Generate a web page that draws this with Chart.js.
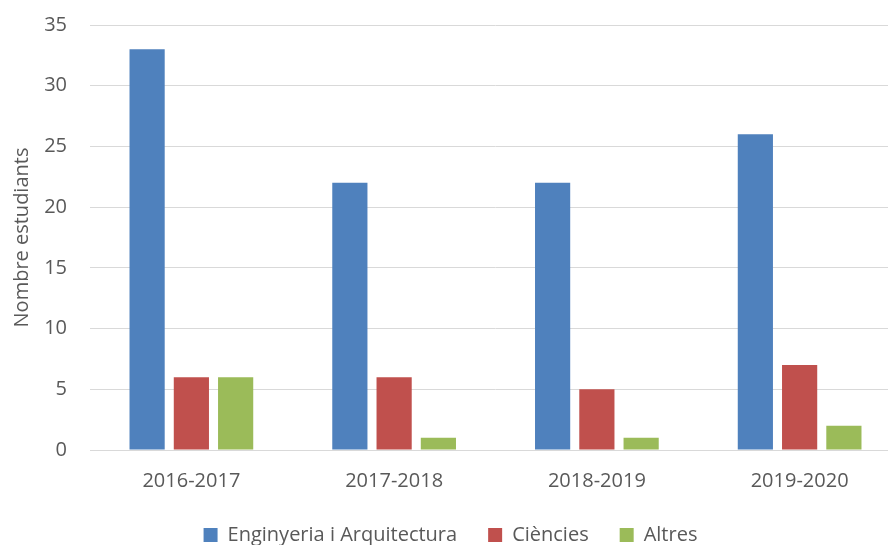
<!DOCTYPE html>
<html>
<head>
<meta charset="utf-8">
<script src="https://cdn.jsdelivr.net/npm/chart.js@4/dist/chart.umd.min.js"></script>
<style>
  html, body { margin: 0; padding: 0; background: #fff; overflow: hidden; }
  /* the plot runs a little past the right edge, as in the reference */
  #wrap { width: 901px; height: 555px; margin-top: -10px; }
</style>
</head>
<body>
<div id="wrap"><canvas id="chart"></canvas></div>
<script>
const years = ['2016-2017', '2017-2018', '2018-2019', '2019-2020'];
const enginyeria = [33, 22, 22, 26];
const ciencies = [6, 6, 5, 7];
const altres = [6, 1, 1, 2];
const yTicks = [0, 5, 10, 15, 20, 25, 30, 35];

const font = "'Open Sans', 'Liberation Sans', sans-serif";
Chart.defaults.font.family = font;
Chart.defaults.color = '#595959';

new Chart(document.getElementById('chart'), {
    type: 'bar',
    data: {
        labels: years,
        datasets: [
            { label: 'Enginyeria i Arquitectura', data: enginyeria, backgroundColor: '#4F81BD' },
            { label: 'Ciències', data: ciencies, backgroundColor: '#C0504D' },
            { label: 'Altres', data: altres, backgroundColor: '#9BBB59' }
        ]
    },
    options: {
        responsive: true,
        maintainAspectRatio: false,
        animation: false,
        datasets: { bar: { categoryPercentage: 0.655, barPercentage: 0.795 } },
        layout: { padding: { top: 0, right: 0, left: 0, bottom: -10 } },
        plugins: {
            legend: {
                position: 'bottom',
                labels: {
                    boxWidth: 14, boxHeight: 14, padding: 31,
                    font: { size: 20 }, color: '#595959'
                }
            },
            tooltip: { enabled: false }
        },
        scales: {
            x: {
                grid: { display: false, drawTicks: false },
                border: { color: '#d9d9d9' },
                ticks: { font: { size: 20 }, color: '#595959', padding: 19 },
                afterFit: axis => { axis.height = 44; }
            },
            y: {
                min: 0, max: 35,
                afterBuildTicks: axis => { axis.ticks = yTicks.map(v => ({ value: v })); },
                afterFit: axis => { axis.width = 90; },
                grid: { color: '#d9d9d9', drawTicks: false },
                border: { display: false },
                ticks: { font: { size: 20 }, color: '#595959', padding: 23 },
                title: {
                    display: true, text: 'Nombre estudiants',
                    font: { size: 20 }, color: '#595959', padding: { top: 10, bottom: 0 }
                }
            }
        }
    }
});
</script>
</body>
</html>
